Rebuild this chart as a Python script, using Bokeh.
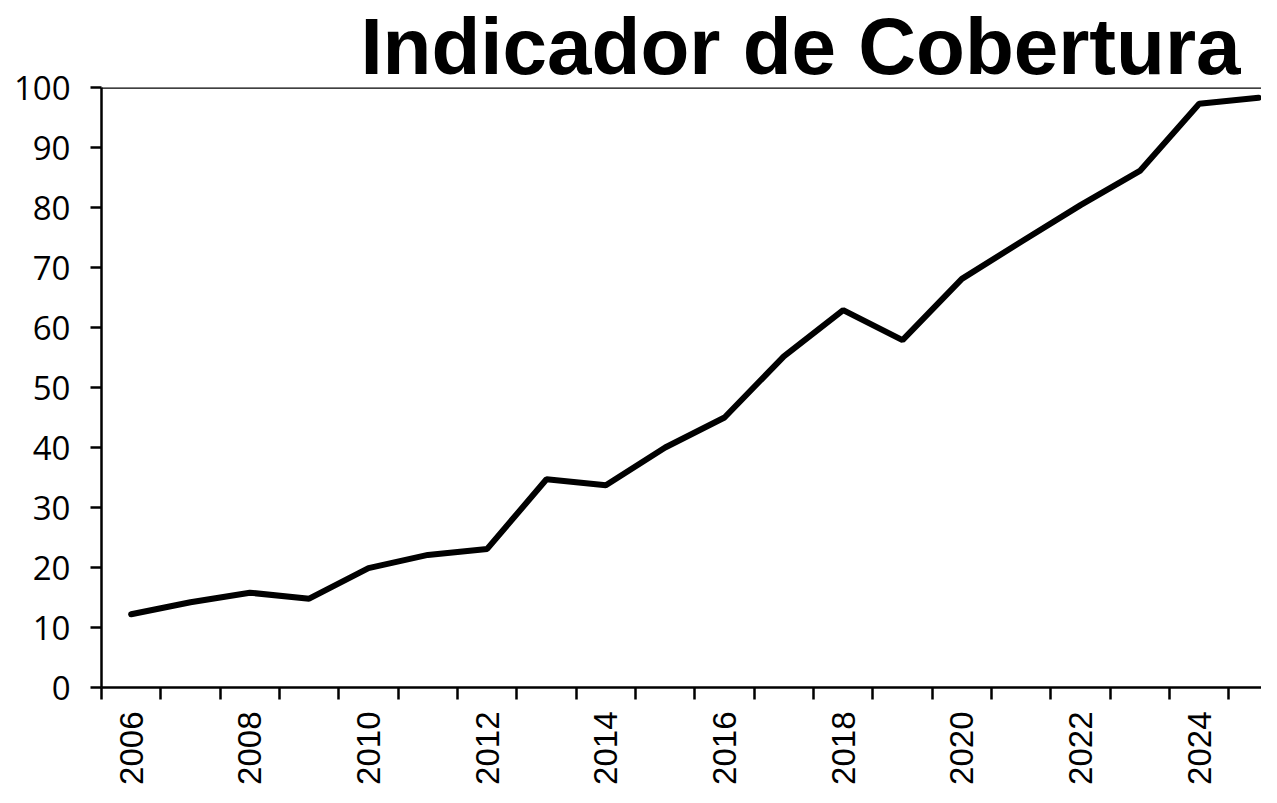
import math
from bokeh.plotting import figure
from bokeh.models import FixedTicker, Range1d, Span
from bokeh.embed import file_html
from bokeh.resources import INLINE

# ---- data ----
years = list(range(2006, 2026))
values = [12.2, 14.2, 15.8, 14.8, 19.9, 22.1, 23.1, 34.7, 33.7, 40.0,
          45.0, 55.2, 62.9, 57.9, 68.1, 74.3, 80.4, 86.1, 97.3, 98.3]
label_years = [2006, 2008, 2010, 2012, 2014, 2016, 2018, 2020, 2022, 2024]
y_ticks = [0, 10, 20, 30, 40, 50, 60, 70, 80, 90, 100]
title_text = "Indicador de Cobertura"

p = figure(width=1261, height=787, output_backend="svg", toolbar_location=None,
           x_range=Range1d(2005.5, 2025.05), y_range=Range1d(0, 100),
           min_border_left=101, min_border_top=87, min_border_bottom=97,
           min_border_right=0, title=title_text)
p.outline_line_color = None
p.grid.visible = False
p.background_fill_color = "white"
p.border_fill_color = "white"

p.title.align = "right"
p.title.text_font = "Liberation Sans"
p.title.text_font_style = "bold"
p.title.text_font_size = "80px"
p.title.text_color = "black"
p.title.standoff = -6
p.title.offset = 21

p.line(years, values, line_width=6, color="black", line_cap="round")

top = Span(location=100, dimension="width", line_color="black", line_width=2.5)
p.add_layout(top)

xa = p.xaxis[0]
xa.ticker = FixedTicker(ticks=label_years,
                        minor_ticks=[y - 0.5 for y in years] + [years[-1] + 0.5])
xa.major_tick_out = 0
xa.major_tick_in = 0
xa.minor_tick_out = 12
xa.minor_tick_in = 0
xa.minor_tick_line_width = 2.5
xa.minor_tick_line_color = "black"
xa.axis_line_width = 2.5
xa.axis_line_color = "black"
xa.major_label_orientation = math.pi / 2
xa.major_label_text_font = "Liberation Sans"
xa.major_label_text_font_size = "33px"
xa.major_label_text_color = "black"
xa.major_label_standoff = 12

ya = p.yaxis[0]
ya.ticker = FixedTicker(ticks=y_ticks)
ya.major_tick_out = 11
ya.major_tick_in = 0
ya.major_tick_line_width = 2.5
ya.major_tick_line_color = "black"
ya.minor_tick_line_color = None
ya.axis_line_width = 2.5
ya.axis_line_color = "black"
ya.major_label_text_font = "Open Sans"
ya.major_label_text_font_size = "33px"
ya.major_label_text_color = "black"
ya.major_label_standoff = 20

open("out.html", "w").write(file_html(p, INLINE))
